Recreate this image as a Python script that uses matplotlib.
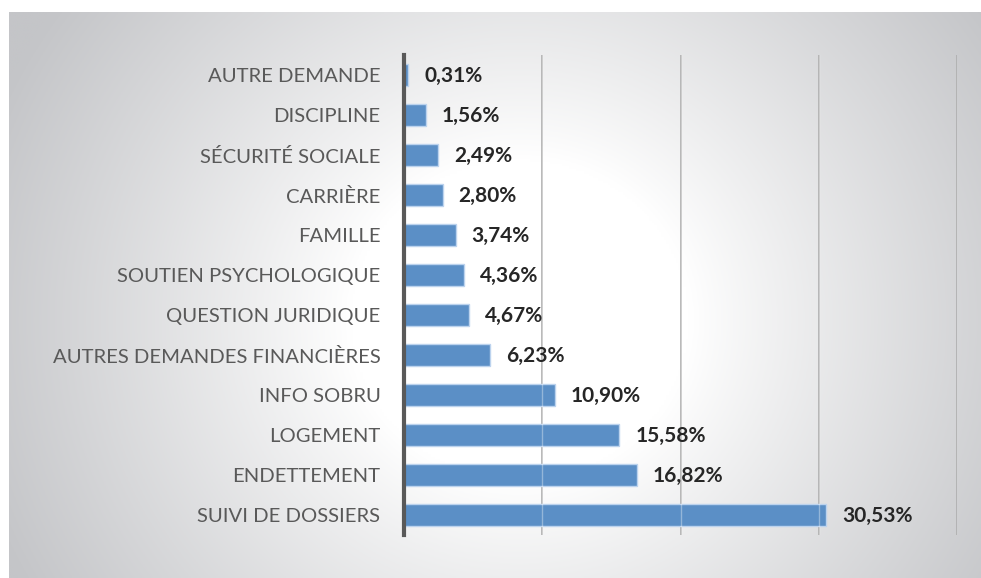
import numpy as np
import matplotlib
matplotlib.use("Agg")
import matplotlib.pyplot as plt

categories = ["AUTRE DEMANDE", "DISCIPLINE", "SÉCURITÉ SOCIALE", "CARRIÈRE", "FAMILLE",
              "SOUTIEN PSYCHOLOGIQUE", "QUESTION JURIDIQUE", "AUTRES DEMANDES FINANCIÈRES",
              "INFO SOBRU", "LOGEMENT", "ENDETTEMENT", "SUIVI DE DOSSIERS"]
values = [0.31, 1.56, 2.49, 2.80, 3.74, 4.36, 4.67, 6.23, 10.90, 15.58, 16.82, 30.53]
labels = ["0,31%", "1,56%", "2,49%", "2,80%", "3,74%", "4,36%", "4,67%", "6,23%",
          "10,90%", "15,58%", "16,82%", "30,53%"]

W, H = 981, 578
fig = plt.figure(figsize=(W / 100, H / 100), dpi=100)
fig.patch.set_facecolor("white")

# background panel with radial gradient
bg = fig.add_axes([9 / W, 0, (W - 9) / W, (H - 12) / H])
bg.set_axis_off()
xx, yy = np.meshgrid(np.linspace(9, W, 400), np.linspace(12, H, 240))
cx, cy = 520, 320
d = np.sqrt(((xx - cx) / 1.0) ** 2 + ((yy - cy) / 0.95) ** 2)
t = np.clip((d - 170) / 400, 0, 1) ** 0.9
white = np.array([1.0, 1.0, 1.0])
grey = np.array([0xc4, 0xc5, 0xc8]) / 255
img = white[None, None, :] * (1 - t[..., None]) + grey[None, None, :] * t[..., None]
bg.imshow(img, aspect="auto", extent=[0, 1, 0, 1], origin="upper")
bg.set_xlim(0, 1)
bg.set_ylim(0, 1)

ax = fig.add_axes([404 / W, (H - 535) / H, 553 / W, 480 / H])
ax.patch.set_alpha(0)
y = np.arange(len(categories))
ax.barh(y, values, height=0.56, color="#5b8fc6", edgecolor="#bcd3ee", linewidth=1.0, zorder=2)
ax.set_ylim(len(categories) - 0.5, -0.5)
ax.set_xlim(0, 40)
for gx in [10, 20, 30, 40]:
    ax.axvline(gx, color="#a8a8a8", linewidth=1.2, zorder=1)
    ax.axvline(gx, color="white", linewidth=1.0, alpha=0.35, zorder=3)

for yi, v, lab in zip(y, values, labels):
    ax.annotate(lab, (v, yi), xytext=(16, -1), textcoords="offset pixels",
                ha="left", va="center", fontsize=15, fontweight="bold", color="#262626",
                family="Lato")

ax.set_yticks(y)
ax.set_yticklabels(categories, fontsize=14.6, color="#595959", family="Lato")
ax.tick_params(axis="y", length=0, pad=17)
ax.set_xticks([])
for s in ["top", "right", "bottom"]:
    ax.spines[s].set_visible(False)
ax.spines["left"].set_color("#595959")
ax.spines["left"].set_linewidth(3)

fig.savefig("out.png", dpi=100)
